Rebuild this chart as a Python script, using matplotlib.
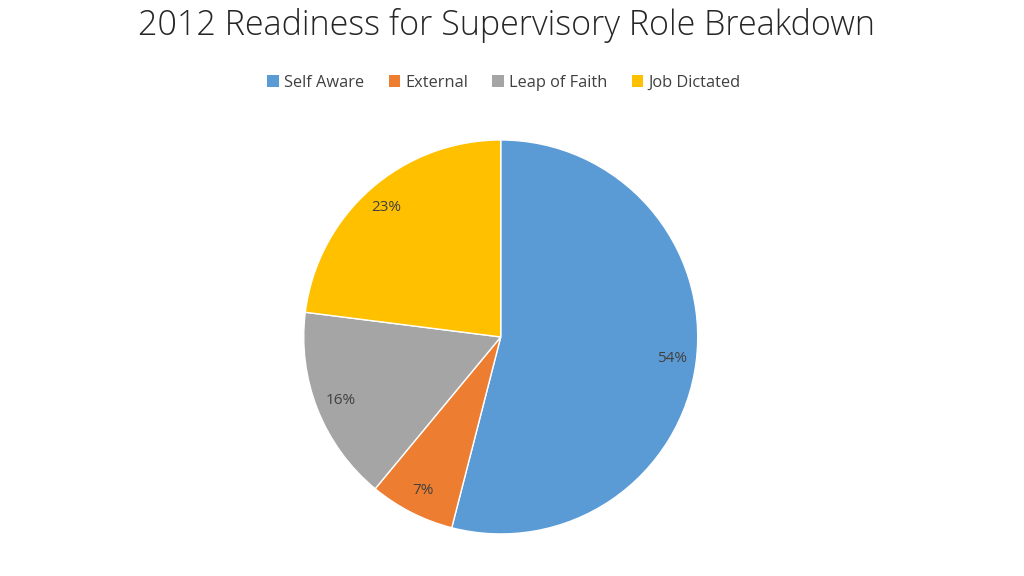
import matplotlib
matplotlib.use("Agg")
import matplotlib.pyplot as plt
from matplotlib.patches import Patch

plt.rcParams['font.family'] = ['Open Sans', 'DejaVu Sans']

categories = ["Self Aware", "External", "Leap of Faith", "Job Dictated"]
shares = [54, 7, 16, 23]
colors = ["#5B9BD5", "#ED7D31", "#A5A5A5", "#FFC000"]

fig = plt.figure(figsize=(10.24, 5.76), dpi=100)
ax = fig.add_axes([0.2965, 0.073, 0.385, 0.684])

ax.pie(shares, colors=colors, startangle=90, counterclock=False,
       autopct="%d%%", pctdistance=0.875,
       wedgeprops=dict(linewidth=1, edgecolor="white"),
       textprops=dict(fontsize=11, color="#404040"))
ax.set_xlim(-1, 1)
ax.set_ylim(-1, 1)
ax.set_aspect("equal")

fig.text(0.495, 0.955, "2012 Readiness for Supervisory Role Breakdown",
         ha="center", va="center", fontsize=24.5, color="#262626", fontweight="light")

handles = [Patch(facecolor=c, label=l) for c, l in zip(colors, categories)]
fig.legend(handles=handles, loc="center", bbox_to_anchor=(0.492, 0.856), ncol=4,
           frameon=False, fontsize=11.8, handlelength=0.7, handleheight=0.7,
           handletextpad=0.3, columnspacing=1.5, labelcolor="#404040")

fig.savefig("out.png", dpi=100)
